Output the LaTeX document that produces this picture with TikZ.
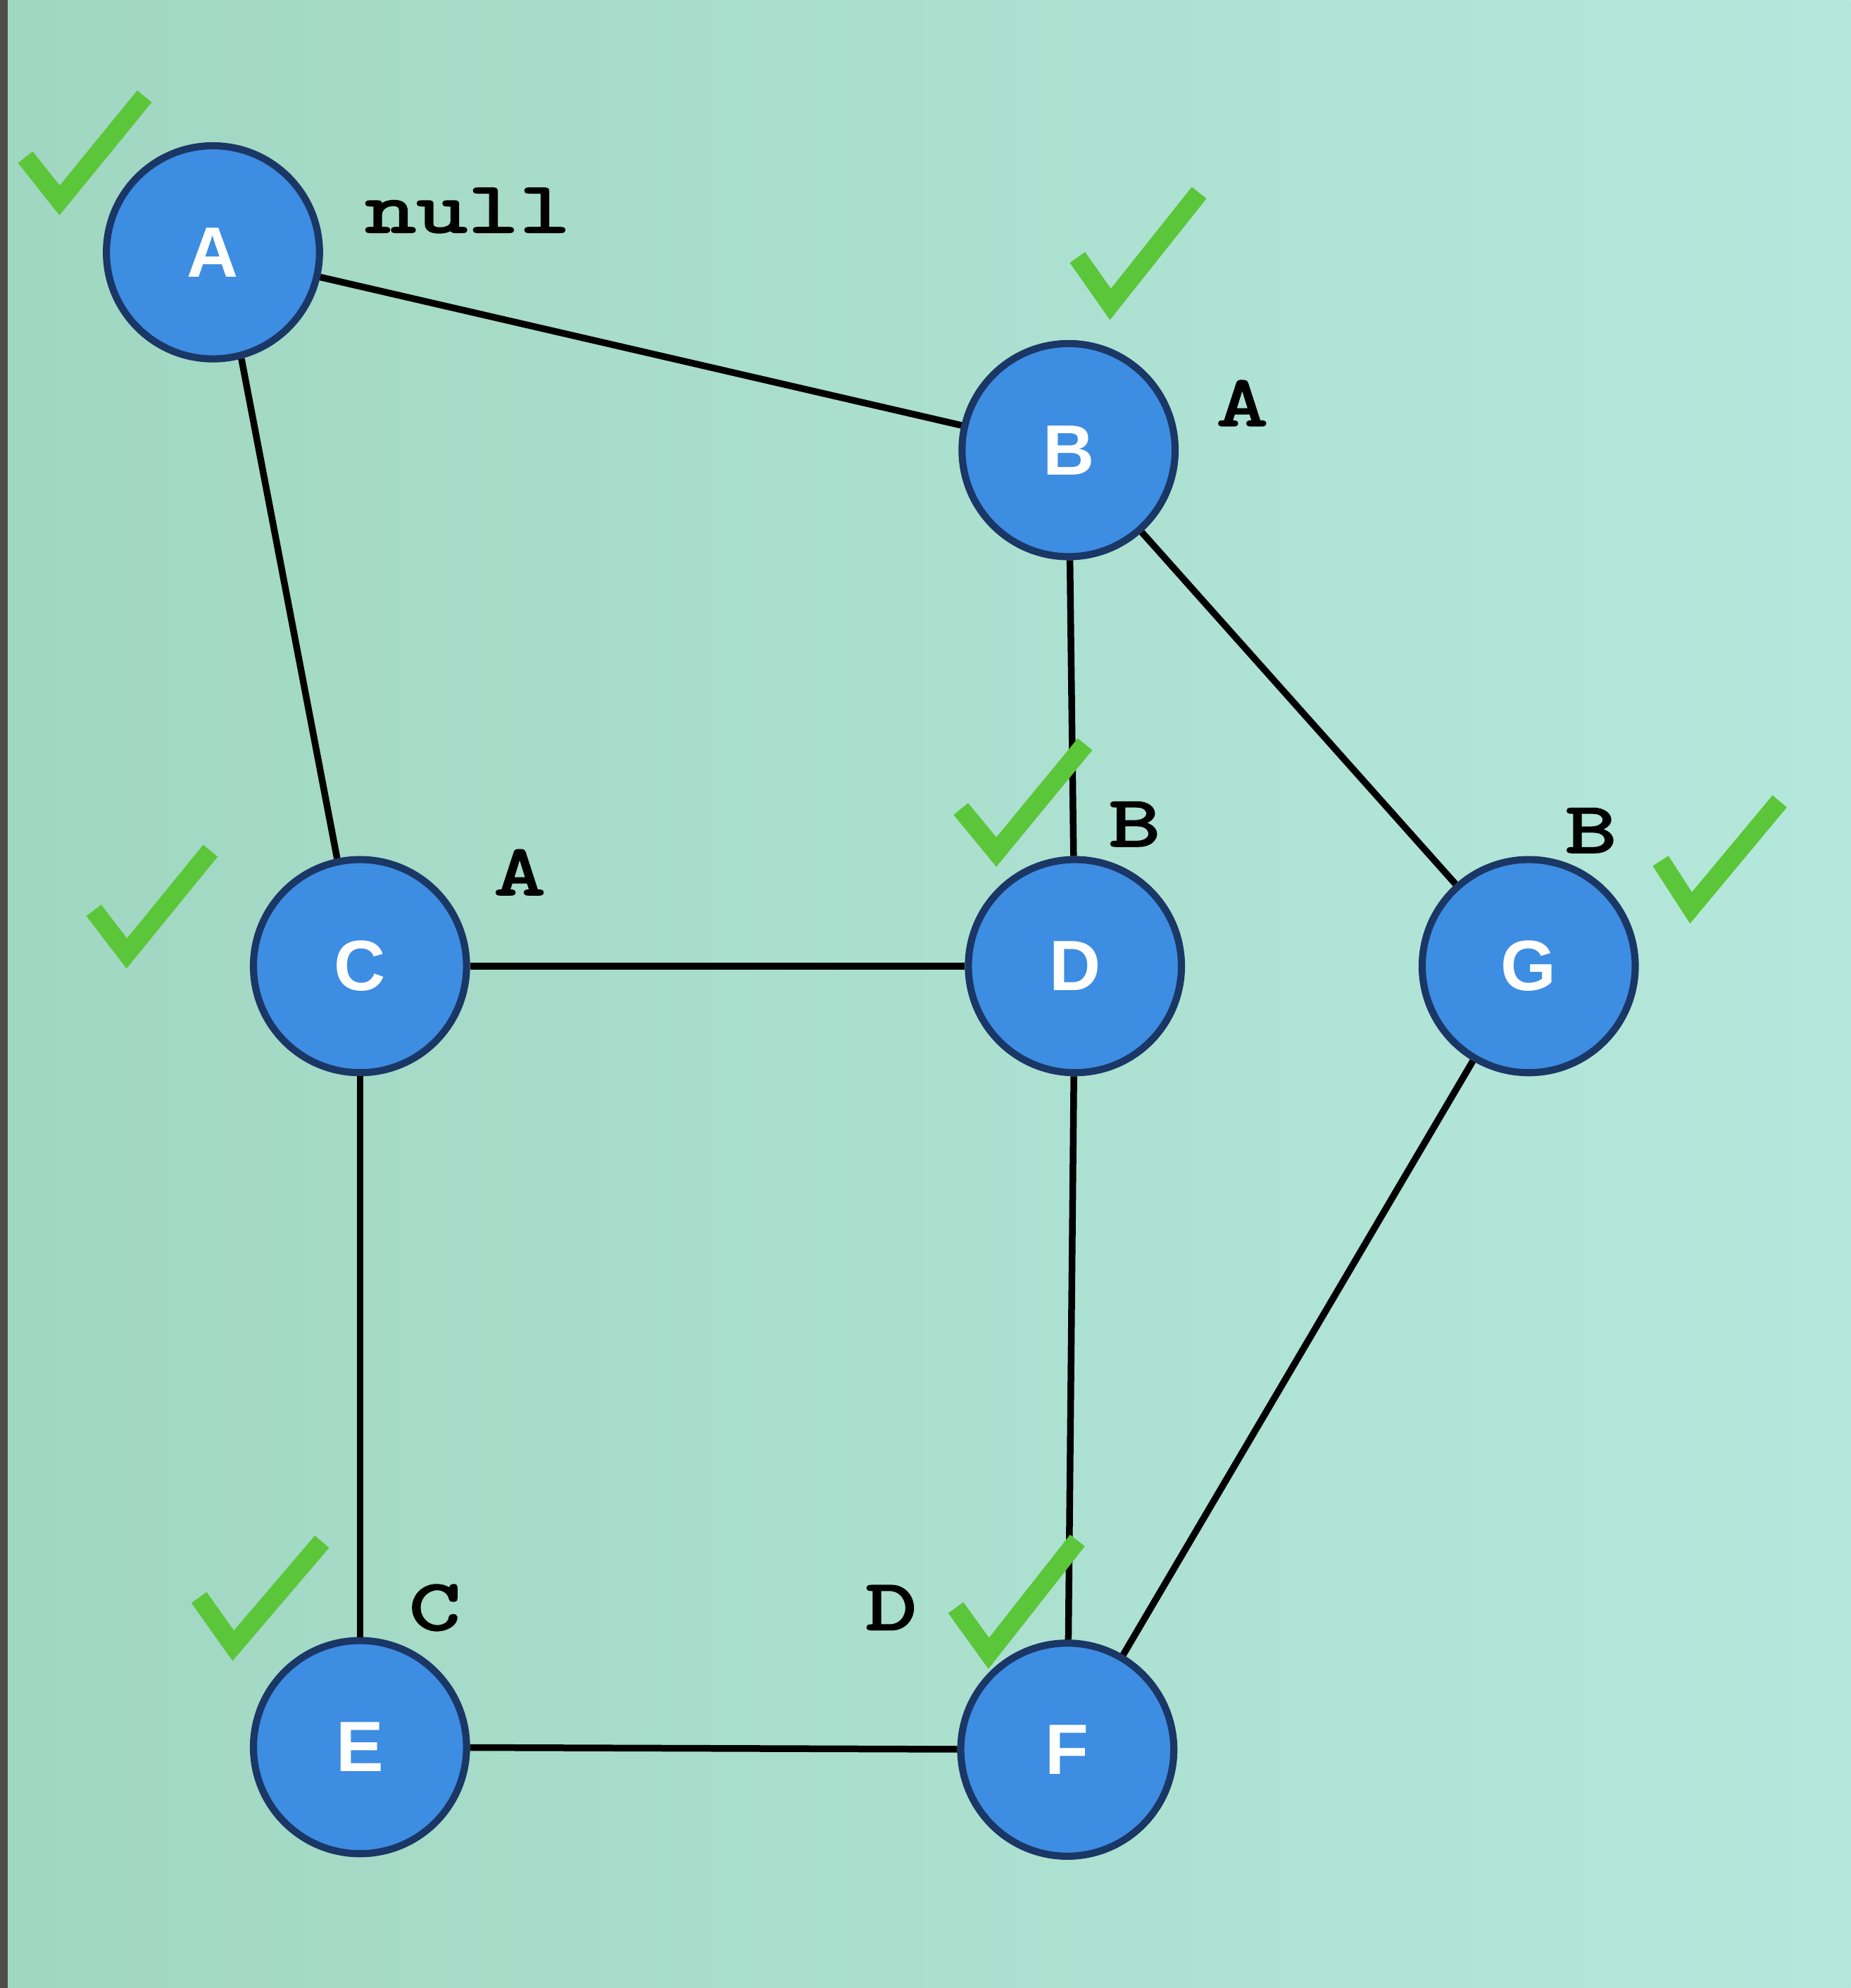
\documentclass[tikz,border=0pt]{standalone}
\usepackage{fontspec}
\setmainfont{Liberation Sans}
\newfontfamily\labfont[FakeStretch=1.4,FakeBold=3]{Latin Modern Mono}
\usetikzlibrary{shadings}
\definecolor{bgL}{HTML}{A0D7C1}
\definecolor{bgR}{HTML}{B5E8DC}
\definecolor{nodeblue}{HTML}{3D8DE2}
\definecolor{nodeedge}{HTML}{1A3766}
\definecolor{checkgreen}{HTML}{5CC63A}
\tikzset{
  vert/.style={circle, fill=nodeblue, draw=nodeedge, line width=1.6pt,
    minimum size=1.68cm, inner sep=0pt, text=white,
    font=\fontsize{16}{18}\selectfont\bfseries},
  edge/.style={line width=1.5pt, black},
  lab/.style={font=\labfont\fontsize{16}{18}\selectfont, text=black, inner sep=0pt},
  tick/.style={line width=4.2pt, checkgreen, line cap=butt, line join=miter}
}
\begin{document}
\begin{tikzpicture}[x=0.01cm,y=-0.01cm]
\useasboundingbox (0,0) rectangle (1460,1568);
\shade[left color=bgL, right color=bgR] (0,0) rectangle (1460,1568);
\fill[black!70] (0,0) rectangle (6,1568);
% nodes
\node[vert] (A) at (168,199) {A};
\node[vert] (B) at (843,355) {B};
\node[vert] (C) at (284,762) {C};
\node[vert] (D) at (848,762) {D};
\node[vert] (G) at (1206,762) {G};
\node[vert] (E) at (284,1378) {E};
\node[vert] (F) at (842,1380) {F};
% edges
\draw[edge] (A) -- (B);
\draw[edge] (A.-75) -- (C.102);
\draw[edge] (B) -- (D);
\draw[edge] (B) -- (G);
\draw[edge] (C) -- (D);
\draw[edge] (C) -- (E);
\draw[edge] (D) -- (F);
\draw[edge] (G) -- (F);
\draw[edge] (E) -- (F);
% labels
\node[lab] (lA) at (369,166) {null};
\node[lab] (lB) at (980,318) {A};
\node[lab] (lD) at (895,650) {B};
\node[lab] (lG) at (1255,655) {B};
\node[lab] (lC) at (410,688) {A};
\node[lab] (lE) at (343,1268) {C};
\node[lab] (lF) at (703,1268) {D};
% check marks
\draw[tick] (20,124) -- (47,158) -- (114,76);
\draw[tick] (850,203) -- (876,240) -- (946,152);
\draw[tick] (74,718) -- (100,752) -- (166,671);
\draw[tick] (758,638) -- (786,672) -- (856,587);
\draw[tick] (1310,679) -- (1334,716) -- (1404,632);
\draw[tick] (157,1260) -- (184,1298) -- (254,1216);
\draw[tick] (754,1268) -- (780,1304) -- (850,1215);
\end{tikzpicture}
\end{document}
